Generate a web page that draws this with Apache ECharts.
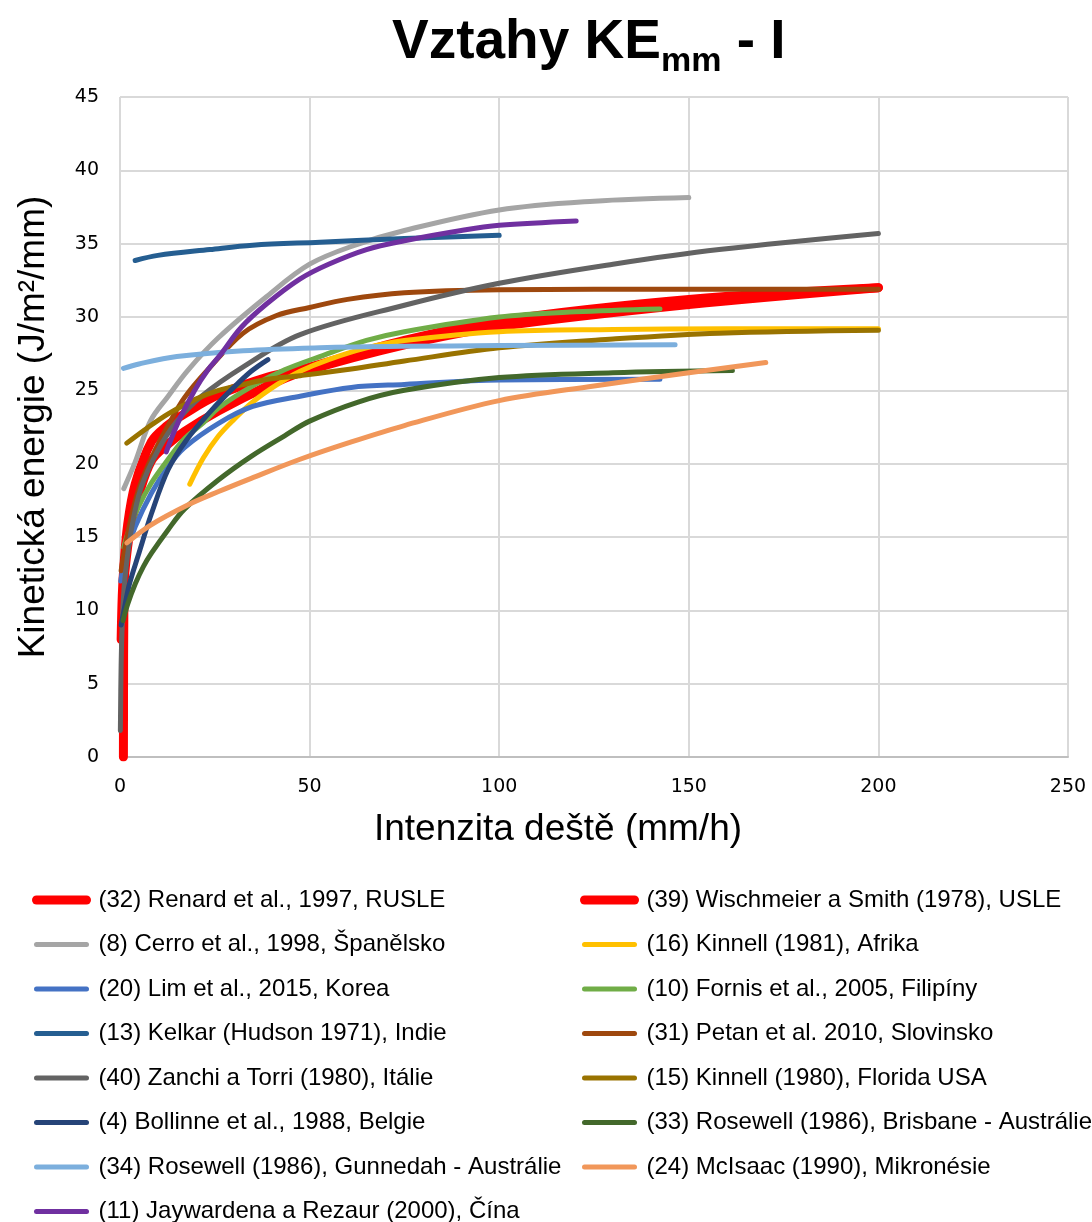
<!DOCTYPE html>
<html>
<head>
<meta charset="utf-8">
<script src="https://cdn.jsdelivr.net/npm/echarts@6/dist/echarts.min.js"></script>
<style>
  html, body { margin: 0; padding: 0; background: #fff; }
  #chart { width: 1092px; height: 1222px; }
</style>
</head>
<body>
<div id="chart"></div>
<script>
// values: [intensity mm/h, KE J/m2/mm]
const renard     = [[0.3,8],[0.6,11],[1,12.9],[2,15.8],[4,18.6],[8.3,21.5],[12.5,22.6],[17,23.4],[26,24.7],[39,25.9],[47.5,26.4],[75,28.4],[100,29.75],[150,31.2],[200,32.0]];
const wischmeier = [[0.9,0],[1.05,11.5],[2,14.3],[3,15.9],[5,17.9],[8.3,20.2],[12.5,21.3],[17,22.2],[26,23.6],[39,25.3],[47.5,26.2],[75,28.1],[100,29.35],[150,30.85],[200,32.0]];
const cerro      = [[1,18.3],[4,20.1],[8,22.9],[12.7,24.6],[18,26.4],[26,28.6],[38.7,31.4],[50,33.6],[62,34.9],[75,35.9],[100,37.3],[125,37.9],[150,38.15]];
const kinnellAf  = [[18.4,18.6],[22,20.4],[26,21.9],[30,23.0],[35,24.2],[41.5,25.4],[47.5,26.3],[55,27.1],[65,27.9],[75,28.4],[100,29.0],[130,29.15],[160,29.2],[200,29.2]];
const lim        = [[0.2,12.0],[1.5,13.8],[4,15.7],[8.3,18.0],[12.7,19.8],[17,21.1],[26,22.75],[35,23.9],[47.5,24.6],[61,25.2],[75,25.4],[100,25.7],[142.4,25.75]];
const fornis     = [[1,14.3],[2,15.2],[4.75,17.0],[8.3,18.7],[12.7,20.3],[17,21.7],[22,22.8],[26,23.8],[35,25.3],[43.4,26.4],[52.7,27.3],[65,28.4],[75,29.0],[100,30.0],[120,30.35],[142.4,30.55]];
const kelkar     = [[4,33.85],[10,34.2],[23.7,34.6],[35,34.9],[52.7,35.1],[75,35.35],[100,35.57]];
const petan      = [[0.3,12.7],[1,13.8],[2.5,15.8],[5,18.3],[8.5,20.5],[12.7,22.6],[17,24.5],[23.5,26.5],[32.5,28.9],[41.3,30.1],[50,30.65],[60,31.2],[75,31.65],[100,31.85],[150,31.9],[200,31.9]];
const zanchi     = [[0.1,1.8],[0.3,6.3],[0.6,9.1],[1.2,11.9],[3,15.5],[5.6,18.4],[10,20.9],[15,22.9],[21.5,24.6],[32.5,26.6],[47.5,28.8],[75,30.8],[100,32.3],[130,33.6],[158,34.6],[200,35.7]];
const kinnellFl  = [[1.8,21.4],[7,22.4],[12.7,23.4],[20,24.4],[26,25.0],[32.5,25.4],[39,25.75],[47.5,26.0],[61,26.45],[75,27.0],[100,27.9],[130,28.5],[158,28.9],[200,29.1]];
const bollinne   = [[0.3,9.0],[1.2,10.2],[2.5,11.8],[4.75,13.7],[8.3,16.6],[12.7,19.6],[17.5,21.6],[24,23.6],[30,25.2],[34.6,26.3],[39,27.1]];
const brisbane   = [[0.8,9.3],[2,10.4],[4,11.8],[6.2,13.0],[8.3,13.9],[12.7,15.5],[17,16.9],[26,18.9],[34.6,20.5],[43.4,21.9],[50,22.9],[62.8,24.2],[75,25.0],[100,25.87],[130,26.2],[161.5,26.35]];
const gunnedah   = [[0.9,26.5],[5,26.8],[15,27.3],[32.5,27.7],[52.7,27.9],[75,28.0],[100,28.05],[146.4,28.1]];
const mcisaac    = [[1.8,14.6],[8,15.8],[18,17.2],[26,18.1],[34.6,19.0],[47.5,20.3],[60,21.4],[75,22.6],[100,24.3],[125,25.3],[150,26.2],[170.3,26.9]];
const jaywardena = [[12.2,20.8],[15.3,22.8],[19.7,25.0],[23.2,26.4],[26.4,27.4],[32,29.3],[38.7,30.9],[47.5,32.6],[55,33.6],[65,34.6],[75,35.2],[90,35.9],[100,36.25],[120.3,36.55]];

const xTicks = [0, 50, 100, 150, 200, 250];
const yTicks = [0, 5, 10, 15, 20, 25, 30, 35, 40, 45];

// series in legend (row-major) order
const seriesDefs = [
  ['(32) Renard et al., 1997, RUSLE', '#FF0000', renard, 9],
  ['(39) Wischmeier a Smith (1978), USLE', '#FF0000', wischmeier, 9],
  ['(8) Cerro et al., 1998, Španělsko', '#A5A5A5', cerro, 5],
  ['(16) Kinnell (1981), Afrika', '#FFC000', kinnellAf, 5],
  ['(20) Lim et al., 2015, Korea', '#4472C4', lim, 5],
  ['(10) Fornis et al., 2005, Filipíny', '#70AD47', fornis, 5],
  ['(13) Kelkar (Hudson 1971), Indie', '#255E91', kelkar, 5],
  ['(31) Petan et al. 2010, Slovinsko', '#9E480E', petan, 5],
  ['(40) Zanchi a Torri (1980), Itálie', '#636363', zanchi, 5],
  ['(15) Kinnell (1980), Florida USA', '#997300', kinnellFl, 5],
  ['(4) Bollinne et al., 1988, Belgie', '#264478', bollinne, 5],
  ['(33) Rosewell (1986), Brisbane - Austrálie', '#43682B', brisbane, 5],
  ['(34) Rosewell (1986), Gunnedah - Austrálie', '#7CAFDD', gunnedah, 5],
  ['(24) McIsaac (1990), Mikronésie', '#F1975A', mcisaac, 5],
  ['(11) Jaywardena a Rezaur (2000), Čína', '#7030A0', jaywardena, 5]
];

const FONT = '"Liberation Sans", Arial, sans-serif';

const series = seriesDefs.map(([name, color, pts, w]) => ({
  name, type: 'line', data: pts,
  smooth: 0.35,
  symbol: 'none', showSymbol: false,
  lineStyle: { color, width: w, cap: 'round', join: 'round' },
  itemStyle: { color },
  emphasis: { disabled: true }
}));

function legendData(idx) {
  return idx.map(i => {
    const d = seriesDefs[i];
    return { name: d[0], lineStyle: { width: d[3], cap: 'round' } };
  });
}

const legendBase = {
  type: 'plain', orient: 'vertical', top: 888, height: 420, padding: 0,
  itemWidth: 50, itemHeight: 14, itemGap: 20.5,
  selectedMode: false,
  lineStyle: { width: 5, cap: 'round' },
  itemStyle: { opacity: 0 },
  textStyle: { fontFamily: FONT, fontSize: 24, color: '#000', padding: [0, 0, 0, 7] }
};

const chart = echarts.init(document.getElementById('chart'));
chart.setOption({
  animation: false,
  backgroundColor: '#fff',
  title: {
    text: '{a|Vztahy KE}{b|mm}{a| - I}',
    left: 387, top: 12,
    textStyle: {
      rich: {
        a: { fontFamily: FONT, fontSize: 55, fontWeight: 'bold', color: '#000', lineHeight: 62, verticalAlign: 'bottom', padding: [0, 0, 9, 0] },
        b: { fontFamily: FONT, fontSize: 34, fontWeight: 'bold', color: '#000', lineHeight: 38, verticalAlign: 'bottom' }
      }
    }
  },
  grid: { left: 120, right: 24, top: 97, bottom: 465 },
  legend: [
    Object.assign({}, legendBase, { left: 32, data: legendData([0, 2, 4, 6, 8, 10, 12, 14]) }),
    Object.assign({}, legendBase, { left: 580, data: legendData([1, 3, 5, 7, 9, 11, 13]) })
  ],
  xAxis: {
    type: 'value', min: xTicks[0], max: xTicks[xTicks.length - 1], interval: 50,
    name: 'Intenzita deště (mm/h)', nameLocation: 'middle', nameGap: 54,
    nameTextStyle: { fontFamily: FONT, fontSize: 37, color: '#000', padding: [0, 72, 0, 0] },
    axisLine: { show: true, lineStyle: { color: '#BFBFBF', width: 2 } },
    axisTick: { show: false },
    axisLabel: { fontFamily: '"DejaVu Sans", sans-serif', fontSize: 19, color: '#000', margin: 21 },
    splitLine: { show: true, lineStyle: { color: '#D9D9D9', width: 2 } }
  },
  yAxis: {
    type: 'value', min: yTicks[0], max: yTicks[yTicks.length - 1], interval: 5,
    name: 'Kinetická energie (J/m²/mm)', nameLocation: 'middle', nameGap: 68,
    nameTextStyle: { fontFamily: FONT, fontSize: 37, color: '#000' },
    axisLine: { show: false },
    axisTick: { show: false },
    axisLabel: { fontFamily: '"DejaVu Sans", sans-serif', fontSize: 19, color: '#000', margin: 21 },
    splitLine: { show: true, lineStyle: { color: '#D9D9D9', width: 2 } }
  },
  series
});
</script>
</body>
</html>
